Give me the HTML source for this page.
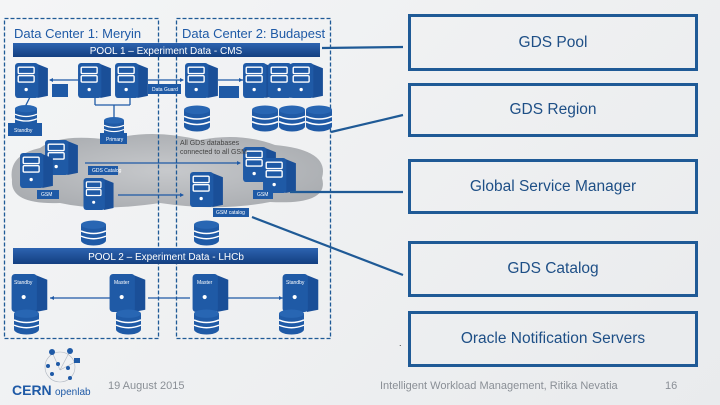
<!DOCTYPE html>
<html><head><meta charset="utf-8"><style>
html,body{margin:0;padding:0}
body{width:720px;height:405px;overflow:hidden;background:linear-gradient(135deg,#f4f5f6,#e9ebed);font-family:"Liberation Sans",sans-serif;position:relative}
.box{position:absolute;left:408px;width:284px;border:3px solid #1f5a96;box-sizing:content-box;display:flex;align-items:center;justify-content:center;color:#1e4f86;font-size:15.5px}
.ft{position:absolute;color:#8a8f96;font-size:11px}
</style></head><body>
<svg width="720" height="405" style="position:absolute;left:0;top:0">
<defs>
<symbol id="srv" viewBox="0 0 32 33">
<path d="M21 1 L31 5 L31 31 L21 33 Z" fill="#1a4f98"/>
<rect x="0" y="0" width="22" height="33" rx="3" fill="#1f5aa6"/>
<rect x="3" y="4" width="15" height="6" rx="1" fill="none" stroke="#fff" stroke-width="1.3"/>
<rect x="3" y="12" width="15" height="6" rx="1" fill="none" stroke="#fff" stroke-width="1.3"/>
<circle cx="10.5" cy="25" r="1.6" fill="#fff"/>
</symbol>
<symbol id="srv2" viewBox="0 0 32 33">
<path d="M21 1 L31 5 L31 31 L21 33 Z" fill="#1a4f98"/>
<rect x="0" y="0" width="22" height="33" rx="3" fill="#1f5aa6"/>
<circle cx="10.5" cy="20" r="1.8" fill="#fff"/>
</symbol>
<symbol id="db" viewBox="0 0 24 24">
<ellipse cx="12" cy="19" rx="12" ry="5" fill="#1f5aa6"/>
<rect x="0" y="4" width="24" height="15" fill="#1f5aa6"/>
<ellipse cx="12" cy="4" rx="12" ry="4" fill="#2866b3"/>
<path d="M0 10 Q12 15 24 10 M0 15 Q12 20 24 15" stroke="#fff" stroke-width="1.4" fill="none"/>
</symbol>
<linearGradient id="bar" x1="0" y1="0" x2="0" y2="1"><stop offset="0" stop-color="#2d63b0"/><stop offset="1" stop-color="#133f80"/></linearGradient>
<radialGradient id="cl" cx="0.5" cy="0.5" r="0.6"><stop offset="0" stop-color="#c7c9cc"/><stop offset="1" stop-color="#a9acb0"/></radialGradient>
</defs>
<path d="M12 180 Q8 155 40 148 Q60 133 110 140 Q150 128 200 140 Q240 132 275 145 Q330 150 322 178 Q330 205 270 202 Q220 212 160 203 Q100 212 60 203 Q10 205 12 180Z" fill="url(#cl)"/>
<rect x="4.5" y="18.5" width="154" height="320" fill="none" stroke="#1f5a96" stroke-width="1.3" stroke-dasharray="4,2"/>
<rect x="176.5" y="18.5" width="154" height="320" fill="none" stroke="#1f5a96" stroke-width="1.3" stroke-dasharray="4,2"/>
<text x="14" y="38" font-size="13" fill="#1f5aa6">Data Center 1: Meryin</text>
<text x="182" y="38" font-size="13" fill="#1f5aa6">Data Center 2: Budapest</text>
<rect x="13" y="43" width="307" height="14" fill="url(#bar)"/>
<text x="166" y="54" font-size="10" fill="#fff" text-anchor="middle">POOL 1 – Experiment Data - CMS</text>
<rect x="13" y="248" width="305" height="16" fill="url(#bar)"/>
<text x="166" y="260" font-size="10" fill="#fff" text-anchor="middle">POOL 2 – Experiment Data - LHCb</text>
<g stroke="#1f5aa6" stroke-width="1.3" fill="none">
<line x1="50" y1="80" x2="78" y2="80"/><line x1="148" y1="80" x2="183" y2="80"/><line x1="218" y1="80" x2="243" y2="80"/>
<line x1="95" y1="98" x2="95" y2="105"/><line x1="95" y1="105" x2="130" y2="105"/><line x1="130" y1="98" x2="130" y2="105"/><line x1="114" y1="105" x2="114" y2="120"/>
<line x1="30" y1="97" x2="25" y2="107"/>
<line x1="85" y1="163" x2="240" y2="163"/><line x1="118" y1="195" x2="183" y2="195"/>
<line x1="50" y1="298" x2="110" y2="298"/><line x1="148" y1="298" x2="190" y2="298"/><line x1="228" y1="298" x2="283" y2="298"/>
</g>
<g fill="#1f5aa6"><polygon points="49,80 53,78 53,82"/><polygon points="184,80 180,78 180,82"/><polygon points="243,80 239,78 239,82"/><polygon points="241,163 237,161 237,165"/><polygon points="184,195 180,193 180,197"/><polygon points="50,298 54,296 54,300"/><polygon points="283,298 279,296 279,300"/></g>
<use href="#srv" x="15" y="63" width="34" height="35"/>
<use href="#srv" x="78" y="63" width="34" height="35"/>
<use href="#srv" x="115" y="63" width="34" height="35"/>
<use href="#srv" x="185" y="63" width="34" height="35"/>
<use href="#srv" x="243" y="63" width="34" height="35"/>
<use href="#srv" x="268" y="63" width="34" height="35"/>
<use href="#srv" x="290" y="63" width="34" height="35"/>
<use href="#db" x="14" y="105" width="24" height="22"/>
<use href="#db" x="102" y="117" width="24" height="20"/>
<use href="#db" x="184" y="105" width="26" height="27"/>
<use href="#db" x="252" y="105" width="26" height="27"/>
<use href="#db" x="279" y="105" width="26" height="27"/>
<use href="#db" x="306" y="105" width="26" height="27"/>
<use href="#srv" x="45" y="140" width="34" height="35"/>
<use href="#srv" x="20" y="153" width="34" height="35"/>
<use href="#srv" x="82" y="178" width="34" height="32"/>
<use href="#srv" x="190" y="172" width="34" height="35"/>
<use href="#srv" x="243" y="147" width="34" height="35"/>
<use href="#srv" x="263" y="158" width="34" height="35"/>
<use href="#db" x="81" y="220" width="25" height="26"/>
<use href="#db" x="194" y="220" width="25" height="26"/>
<use href="#srv2" x="11" y="274" width="38" height="38"/>
<use href="#srv2" x="109" y="274" width="38" height="38"/>
<use href="#srv2" x="192" y="274" width="38" height="38"/>
<use href="#srv2" x="282" y="274" width="38" height="38"/>
<use href="#db" x="14" y="309" width="25" height="26"/>
<use href="#db" x="116" y="309" width="25" height="26"/>
<use href="#db" x="194" y="309" width="25" height="26"/>
<use href="#db" x="279" y="309" width="25" height="26"/>
<g fill="#1f5aa6">
<rect x="52" y="84" width="16" height="13"/><rect x="148" y="84" width="33" height="10"/><rect x="219" y="86" width="20" height="12"/>
<rect x="8" y="123" width="34" height="13"/><rect x="100" y="133" width="27" height="11"/>
<rect x="88" y="166" width="30" height="9"/><rect x="37" y="190" width="22" height="9"/><rect x="253" y="190" width="20" height="9"/><rect x="213" y="208" width="36" height="9"/>
</g>
<g fill="#fff" font-size="5">
<text x="14" y="132">Standby</text><text x="106" y="141">Primary</text><text x="152" y="91">Data Guard</text>
<text x="92" y="172">GDS Catalog</text><text x="41" y="196">GSM</text><text x="257" y="196">GSM</text><text x="216" y="214">GSM catalog</text>
<text x="14" y="284">Standby</text><text x="114" y="284">Master</text><text x="197" y="284">Master</text><text x="286" y="284">Standby</text>
</g>
<text x="180" y="145" font-size="7" fill="#444">All GDS databases</text>
<text x="180" y="154" font-size="7" fill="#444">connected to all GSM</text>
<g stroke="#1f5a96" stroke-width="2.2" fill="none">
<line x1="322" y1="48" x2="403" y2="47"/>
<line x1="331" y1="132" x2="403" y2="115"/>
<line x1="290" y1="192" x2="403" y2="192"/>
<line x1="252" y1="217" x2="403" y2="275"/>
</g>
<text x="399" y="346" font-size="9" fill="#333">.</text>
<g stroke="#b0b6c0" stroke-width="0.6" fill="none"><circle cx="60" cy="367" r="15"/><line x1="52" y1="352" x2="60" y2="370"/><line x1="70" y1="351" x2="60" y2="370"/><line x1="77" y1="361" x2="60" y2="370"/></g>
<g fill="#1f5aa6"><circle cx="52" cy="352" r="3"/><circle cx="70" cy="351" r="3"/><rect x="74" y="358" width="6" height="5"/><circle cx="58" cy="364" r="2"/><circle cx="48" cy="366" r="2"/><circle cx="68" cy="368" r="2"/><circle cx="52" cy="374" r="2"/><circle cx="70" cy="378" r="2"/></g>
<text x="12" y="395" font-size="14" font-weight="bold" fill="#1f5aa6">CERN</text>
<text x="55" y="395" font-size="10" fill="#1f5aa6">openlab</text>
</svg>
<div class="box" style="top:14px;height:51px">GDS Pool</div>
<div class="box" style="top:83px;height:48px">GDS Region</div>
<div class="box" style="top:159px;height:49px">Global Service Manager</div>
<div class="box" style="top:241px;height:50px">GDS Catalog</div>
<div class="box" style="top:311px;height:50px">Oracle Notification Servers</div>
<div class="ft" style="left:108px;top:380px">19 August 2015</div>
<div class="ft" style="left:380px;top:380px">Intelligent Workload Management, Ritika Nevatia</div>
<div class="ft" style="left:665px;top:380px">16</div>
</body></html>
